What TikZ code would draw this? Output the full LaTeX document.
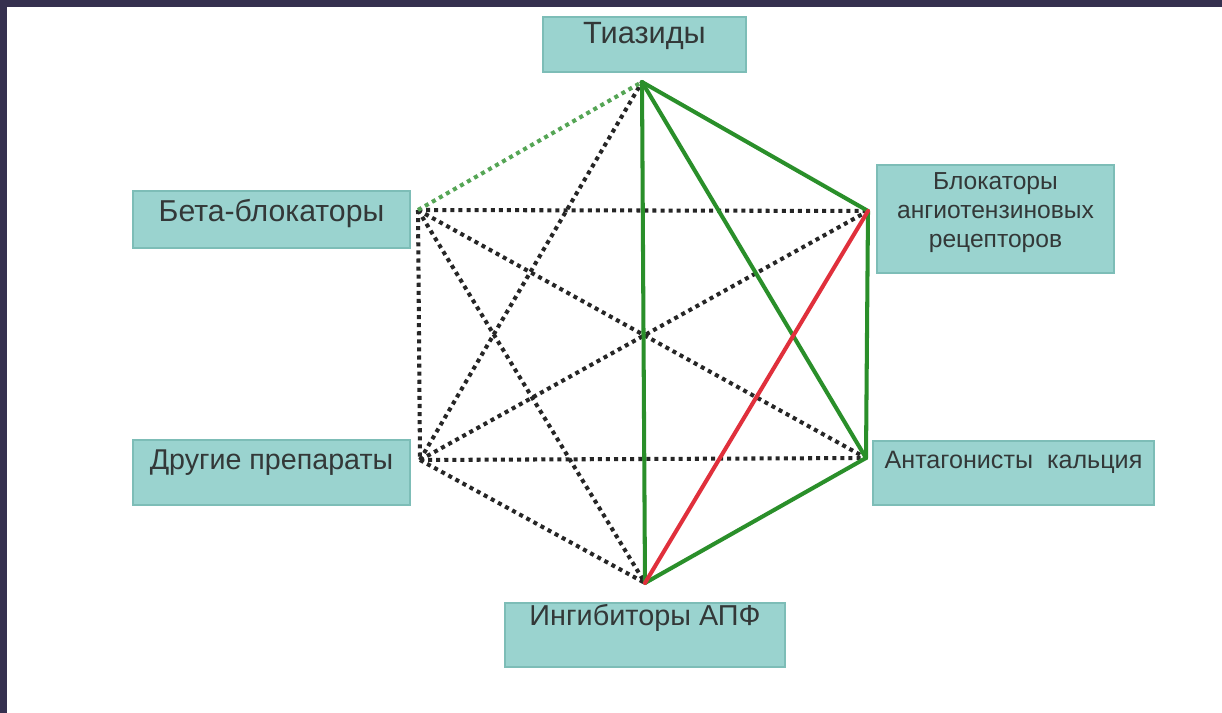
\documentclass[tikz,border=0pt]{standalone}
\usepackage{fontspec}
\setmainfont{Liberation Sans}
\usetikzlibrary{positioning}

\definecolor{boxfill}{HTML}{9AD3CF}
\definecolor{boxline}{HTML}{7DBDB7}
\definecolor{txtgray}{HTML}{333838}
\definecolor{linegreen}{HTML}{2A8F2A}
\definecolor{linered}{HTML}{E0303C}
\definecolor{frame}{HTML}{35304F}

\tikzset{
  drugbox/.style={draw=boxline,fill=boxfill,line width=0.8pt,inner sep=0pt},
  druglbl/.style={text=txtgray,align=center,inner sep=0pt},
  combo/.style={line width=2.3pt,line cap=round,linegreen},
  bad/.style={line width=2.3pt,line cap=round,linered},
  dots/.style={line width=2.3pt,dash pattern=on 2.3pt off 2.3pt,black!85},
  gdots/.style={dots,linegreen!80}
}

\begin{document}
\begin{tikzpicture}
		\useasboundingbox (0,0) rectangle (24.44,14.26);
		\fill[white] (0,0) rectangle (24.44,14.26);
		\fill[frame] (0,14.12) rectangle (24.44,14.26);
		\fill[frame] (0,0) rectangle (0.13,14.26);

		% boxes
		\node[drugbox,minimum width=4.06cm,minimum height=1.1cm] (tiaz) at (12.89,13.37) {};
		\node[drugbox,minimum width=5.54cm,minimum height=1.14cm] (beta) at (5.43,9.87) {};
		\node[drugbox,minimum width=4.74cm,minimum height=2.16cm] (arb) at (19.91,9.88) {};
		\node[drugbox,minimum width=5.54cm,minimum height=1.3cm] (other) at (5.43,4.81) {};
		\node[drugbox,minimum width=5.62cm,minimum height=1.28cm] (calc) at (20.27,4.80) {};
		\node[drugbox,minimum width=5.6cm,minimum height=1.28cm] (ace) at (12.9,1.56) {};

		\node[druglbl,font=\fontsize{17.5}{20}\selectfont,below=0.12cm of tiaz.north] (tiazT) {Тиазиды};
		\node[druglbl,font=\fontsize{17.2}{20}\selectfont,below=0.17cm of beta.north] (betaT) {Бета-блокаторы};
		\node[druglbl,font=\fontsize{14}{16.4}\selectfont,below=0.16cm of arb.north] (arbT) {Блокаторы\\ангиотензиновых\\рецепторов};
		\node[druglbl,font=\fontsize{16.3}{19}\selectfont,below=0.2cm of other.north] (otherT) {Другие препараты};
		\node[druglbl,font=\fontsize{14.3}{17}\selectfont,below=0.22cm of calc.north] (calcT) {Антагонисты\ \ кальция};
		\node[druglbl,font=\fontsize{16.4}{19}\selectfont,below=0.03cm of ace.north] (aceT) {Ингибиторы АПФ};

		% corners of the hexagon
		\coordinate (T) at (12.84,12.62);
		\coordinate (B) at (8.36,10.06);
		\coordinate (A) at (17.36,10.04);
		\coordinate (O) at (8.40,5.06);
		\coordinate (C) at (17.32,5.10);
		\coordinate (I) at (12.90,2.60);

		\foreach \p/\q in {B/A,B/C,B/I,B/O,O/A,O/C,O/I,O/T}
		\draw[dots] (\p) -- (\q);
		\draw[gdots] (B) -- (T);

		\foreach \p/\q in {T/A,T/C,T/I,A/C,C/I}
		\draw[combo] (\p) -- (\q);
		\draw[bad] (A) -- (I);

	    \end{tikzpicture}
\end{document}
